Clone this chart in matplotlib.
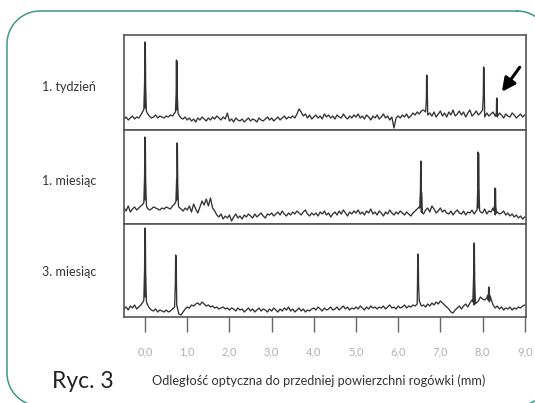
import numpy as np
import matplotlib
matplotlib.use("Agg")
import matplotlib.pyplot as plt

# Sample grid for the baseline traces: -0.5 .. 9.0 mm every 0.05 mm
x_start, x_step = -0.5, 0.05

panel_labels = ["1. tydzień", "1. miesiąc", "3. miesiąc"]

# Baseline signal (arbitrary units, 0..94)
baseline_week1 = [
    11, 13, 10, 12, 14, 11, 13, 12, 15, 19,
    22, 17, 14, 12, 13, 15, 12, 14, 13, 12,
    14, 13, 15, 14, 17, 20, 15, 12, 11, 13,
    10, 12, 9, 11, 8, 12, 10, 13, 11, 9,
    12, 10, 13, 11, 14, 12, 10, 13, 11, 17,
    9, 11, 8, 12, 10, 9, 11, 8, 10, 12,
    9, 11, 10, 8, 12, 10, 9, 11, 13, 10,
    12, 9, 11, 13, 10, 12, 14, 11, 13, 12,
    14, 12, 16, 21, 18, 14, 16, 12, 15, 11,
    13, 15, 12, 14, 11, 16, 13, 15, 12, 14,
    11, 15, 13, 12, 16, 13, 11, 14, 12, 15,
    13, 16, 12, 14, 11, 15, 13, 10, 14, 12,
    15, 11, 13, 16, 12, 14, 10, 13, 2, 12,
    14, 12, 15, 13, 16, 12, 14, 17, 15, 18,
    16, 19, 20, 18, 15, 17, 14, 18, 13, 16,
    19, 14, 17, 13, 18, 15, 20, 14, 16, 19,
    15, 18, 13, 17, 20, 14, 16, 19, 15, 17,
    20, 13, 17, 14, 16, 18, 14, 13, 17, 15,
    12, 16, 14, 13, 17, 15, 12, 14, 16, 13, 15,
]
baseline_month1 = [
    16, 13, 18, 12, 15, 17, 14, 16, 18, 20,
    24, 16, 14, 15, 17, 16, 15, 14, 16, 15,
    17, 16, 15, 18, 20, 24, 17, 15, 13, 16,
    14, 18, 12, 20, 15, 11, 17, 23, 19, 25,
    18, 26, 16, 13, 9, 7, 10, 5, 8, 6,
    9, 3, 7, 10, 6, 8, 5, 9, 7, 10,
    8, 6, 10, 7, 9, 11, 8, 6, 10, 9,
    11, 8, 10, 12, 9, 13, 10, 8, 11, 9,
    12, 10, 13, 11, 9, 12, 14, 10, 8, 11,
    9, 11, 8, 12, 10, 13, 9, 11, 7, 10,
    12, 9, 13, 10, 14, 11, 8, 12, 10, 13,
    11, 14, 10, 12, 9, 13, 11, 15, 10, 12,
    9, 13, 11, 8, 12, 10, 14, 11, 9, 12,
    10, 13, 11, 9, 12, 10, 8, 11, 13, 15,
    17, 12, 10, 14, 16, 12, 18, 15, 11, 13,
    16, 12, 14, 11, 10, 13, 9, 12, 14, 11,
    10, 13, 9, 12, 11, 14, 10, 13, 16, 12,
    11, 15, 10, 13, 12, 16, 9, 12, 10, 11,
    13, 9, 11, 8, 10, 7, 9, 6, 8, 5, 7,
]
baseline_month3 = [
    8, 10, 7, 11, 9, 12, 8, 10, 12, 15,
    20, 13, 9, 7, 6, 8, 5, 7, 6, 5,
    7, 5, 6, 8, 10, 12, 3, 2, 5, 8,
    10, 9, 12, 11, 13, 14, 12, 15, 13, 11,
    12, 10, 11, 9, 10, 8, 9, 10, 8, 9,
    7, 9, 8, 6, 9, 7, 8, 5, 7, 9,
    6, 8, 5, 7, 9, 6, 8, 7, 5, 8,
    6, 9, 7, 5, 8, 6, 9, 7, 10, 6,
    8, 5, 7, 9, 6, 8, 5, 7, 6, 8,
    9, 7, 10, 8, 6, 9, 7, 8, 10, 7,
    8, 10, 7, 9, 11, 8, 10, 7, 9, 8,
    10, 8, 11, 9, 7, 10, 8, 11, 9, 10,
    8, 10, 9, 11, 8, 10, 12, 9, 10, 8,
    11, 9, 10, 12, 9, 11, 10, 12, 11, 13,
    16, 11, 12, 10, 13, 11, 14, 12, 15, 13,
    16, 14, 12, 10, 8, 5, 4, 7, 9, 11,
    8, 11, 13, 10, 14, 17, 12, 14, 16, 20,
    18, 17, 19, 26, 18, 12, 9, 11, 8, 10,
    7, 9, 8, 10, 7, 9, 8, 10, 9, 11, 12,
]

# Reflection peaks: position (mm) and height
peaks_week1_pos = [0.0, 0.75, 6.68, 8.03, 8.34]
peaks_week1_h = [88, 70, 55, 63, 32]
peaks_month1_pos = [0.0, 0.76, 6.54, 7.90, 8.30]
peaks_month1_h = [87, 81, 63, 72, 36]
peaks_month3_pos = [0.0, 0.73, 6.47, 7.80, 8.15]
peaks_month3_h = [89, 62, 63, 74, 30]

tick_values = [0, 1, 2, 3, 4, 5, 6, 7, 8, 9]
tick_labels = ["0,0", "1,0", "2,0", "3,0", "4,0", "5,0", "6,0", "7,0", "8,0", "9,0"]

# Arrow pointing at the small peak in the first panel (tail, head)
arrow_tail = (8.92, 65)
arrow_head = (8.42, 36)


def build_trace(baseline, peak_pos, peak_h):
    """Baseline samples with narrow spikes inserted at the peak positions."""
    base = np.asarray(baseline, dtype=float)
    xs = x_start + x_step * np.arange(len(base))
    x_all = list(xs)
    y_all = list(base)
    for p, h in zip(peak_pos, peak_h):
        for dx, val in [(-0.03, None), (-0.012, h * 0.55), (-0.006, h),
                        (0.006, h * 0.98), (0.014, h * 0.5), (0.03, None)]:
            xx = p + dx
            yy = np.interp(xx, xs, base) if val is None else val
            x_all.append(xx)
            y_all.append(yy)
    order = np.argsort(x_all)
    return np.array(x_all)[order], np.array(y_all)[order]


def rounded_rect(x0, y0, x1, y1, r, n=30):
    """Outline of a rounded rectangle as one closed polyline."""
    t = np.linspace(0, np.pi / 2, n)
    corners = [
        (x1 - r, y0 + r, -np.pi / 2 + t),   # top right
        (x1 - r, y1 - r, t),                 # bottom right
        (x0 + r, y1 - r, np.pi / 2 + t),     # bottom left
        (x0 + r, y0 + r, np.pi + t),         # top left
    ]
    xs, ys = [], []
    for cx, cy, ang in corners:
        xs.extend(cx + r * np.cos(ang))
        ys.extend(cy + r * np.sin(ang))
    xs.append(xs[0])
    ys.append(ys[0])
    return xs, ys


W, H = 535, 403
fig = plt.figure(figsize=(W / 100, H / 100), dpi=100)
plt.rcParams['font.family'] = ['Lato', 'DejaVu Sans']

# Rounded green frame, drawn in pixel coordinates (y down)
bg = fig.add_axes([0, 0, 1, 1])
fx, fy = rounded_rect(7, 11, 550, 406, 33)
bg.plot(fx, fy, color='#3c9a85', linewidth=1.1)
bg.set_xlim(0, W)
bg.set_ylim(H, 0)
bg.axis('off')

# Panel boxes in pixels: (top, bottom)
panel_px = [(35, 130), (130, 224), (224, 317)]
left_px, right_px = 124, 526

data = [
    (baseline_week1, peaks_week1_pos, peaks_week1_h),
    (baseline_month1, peaks_month1_pos, peaks_month1_h),
    (baseline_month3, peaks_month3_pos, peaks_month3_h),
]
label_y_px = [87, 181, 272]

axes = []
for i, ((top, bot), (base, ppos, ph)) in enumerate(zip(panel_px, data)):
    ax = fig.add_axes([left_px / W, 1 - bot / H, (right_px - left_px) / W, (bot - top) / H])
    x, y = build_trace(base, ppos, ph)
    ax.plot(x, y, color='#333333', linewidth=0.95)
    ax.set_xlim(-0.5, 9.03)
    ax.set_ylim(0, bot - top)
    for side in ['left', 'right', 'top', 'bottom']:
        ax.spines[side].set_color('#555555')
        ax.spines[side].set_linewidth(1.2)
    ax.set_yticks([])
    ax.set_xticks([])
    fig.text(42 / W, 1 - label_y_px[i] / H, panel_labels[i], fontsize=9,
             color='#333333', ha='left', va='center')
    axes.append(ax)

# Bottom axis ticks
axes[-1].set_xticks(tick_values)
axes[-1].set_xticklabels(tick_labels)
axes[-1].tick_params(axis='x', direction='out', length=10.5, width=1.0, color='#666666',
                     labelcolor='#b0b0b0', labelsize=8, pad=11)

axes[0].annotate('', xy=arrow_head, xytext=arrow_tail,
                 arrowprops=dict(arrowstyle='-|>', color='black', lw=2.2, mutation_scale=20))

fig.text(52 / W, 1 - 381 / H, "Ryc. 3", fontsize=16.5, color='#222222', ha='left', va='center')
fig.text(152 / W, 1 - 381 / H, "Odległość optyczna do przedniej powierzchni rogówki (mm)",
         fontsize=9.2, color='#333333', ha='left', va='center')

fig.savefig("out.png", dpi=100)
